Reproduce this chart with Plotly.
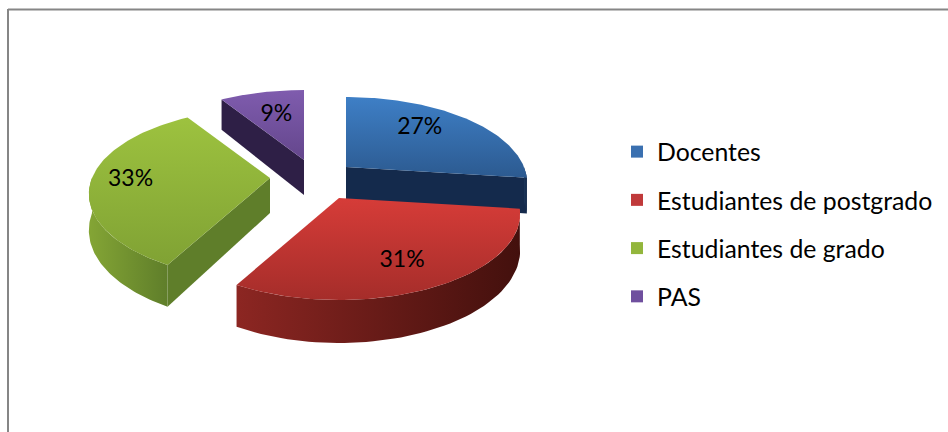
import numpy as np
import plotly.graph_objects as go

categories = ["Docentes", "Estudiantes de postgrado", "Estudiantes de grado", "PAS"]
values = [27, 31, 33, 9]

top_colors = [("#3e7fc6", "#2c5a90"), ("#d63c38", "#a52d2a"), ("#9dc23f", "#80a234"), ("#7f5cae", "#64468c")]
legend_colors = ["#3a70b0", "#c0393a", "#93b63c", "#6f4f9e"]
radial_colors = ["#142a4c", "#7a1f1c", "#5f7e2a", "#2e1f46"]
arc_colors = [("#1b3558", "#142a4c"), ("#8c2622", "#43100d"), ("#84a535", "#5f7e2a"), ("#2e1f46", "#2e1f46")]
apexes = [(346, 167), (339, 198), (270, 178), (304, 160)]
label_r = [0.68, 0.74, 0.78, 0.62]
label_frac = [0.43, 0.52, 0.50, 0.50]

A, B, K, DEPTH = 178, 83, 0.186, 35


def project(apex, theta, r=1.0):
    u, v = r * np.sin(theta), -r * np.cos(theta)
    s = 1 / (1 - K * v)
    return apex[0] + A * u * s, apex[1] + B * v * s, s


def grad(kind, pair):
    return dict(type=kind, colorscale=[[0, pair[0]], [1, pair[1]]])


fig = go.Figure()
bounds = np.cumsum([0] + values) / sum(values) * 2 * np.pi


def poly(xs, ys, **kw):
    fig.add_trace(go.Scatter(x=xs, y=ys, mode="lines", fill="toself", line=dict(width=0),
                             showlegend=False, hoverinfo="skip", **kw))


for i, name in enumerate(categories):
    t0, t1 = bounds[i], bounds[i + 1]
    apex = apexes[i]
    # radial side wall facing the viewer
    if i in (0, 2, 3):
        edge = {0: t1, 2: t0, 3: t0}[i]
        ex, ey, es = project(apex, edge)
        poly([apex[0], ex, ex, apex[0], apex[0]],
             [apex[1], ey, ey + DEPTH * es, apex[1] + DEPTH, apex[1]],
             fillcolor=radial_colors[i])
    # curved outer wall for the part of the rim that faces the viewer
    lo, hi = max(t0, np.pi / 2), min(t1, 3 * np.pi / 2)
    if lo < hi:
        ts = np.linspace(lo, hi, 60)
        px, py, ps = project(apex, ts)
        poly(np.r_[px, px[::-1]], np.r_[py, (py + DEPTH * ps)[::-1]],
             fillgradient=grad("horizontal", arc_colors[i]))
    # top face
    ts = np.linspace(t0, t1, 90)
    px, py, _ = project(apex, ts)
    poly(np.r_[apex[0], px, apex[0]], np.r_[apex[1], py, apex[1]],
         fillgradient=grad("vertical", top_colors[i][::-1]))

# percentage labels
lx, ly, lt = [], [], []
for i, v in enumerate(values):
    theta = bounds[i] + (bounds[i + 1] - bounds[i]) * label_frac[i]
    x, y, _ = project(apexes[i], theta, label_r[i])
    lx.append(x); ly.append(y); lt.append(f"{v}%")
fig.add_trace(go.Scatter(x=lx, y=ly, text=lt, mode="text", showlegend=False, hoverinfo="skip",
                         textposition="middle center",
                         textfont=dict(family="Lato, sans-serif", size=23, color="#000000")))

# legend entries
for i, name in enumerate(categories):
    fig.add_trace(go.Scatter(x=[None], y=[None], mode="markers", name=name, legendgroup=name,
                             marker=dict(symbol="square", size=16, color=legend_colors[i])))

fig.update_layout(
    width=948, height=432, margin=dict(l=0, r=0, t=0, b=0),
    paper_bgcolor="#ffffff", plot_bgcolor="#ffffff",
    xaxis=dict(range=[0, 948], visible=False, fixedrange=True),
    yaxis=dict(range=[432, 0], visible=False, fixedrange=True),
    legend=dict(x=617 / 948, y=1 - 129 / 432, xanchor="left", yanchor="top", tracegroupgap=13,
                font=dict(family="Lato, sans-serif", size=24.8, color="#000000"),
                bgcolor="rgba(0,0,0,0)", itemsizing="constant"),
    shapes=[dict(type="line", xref="paper", yref="paper", x0=8 / 948, x1=1, y0=1 - 9.5 / 432, y1=1 - 9.5 / 432,
                 line=dict(color="#868686", width=2)),
            dict(type="line", xref="paper", yref="paper", x0=8 / 948, x1=8 / 948, y0=0, y1=1 - 9 / 432,
                 line=dict(color="#868686", width=2))],
)
fig.write_html("out.html", config={"displayModeBar": False},
               post_script="document.body.style.margin='0';document.documentElement.style.overflow='hidden';")
